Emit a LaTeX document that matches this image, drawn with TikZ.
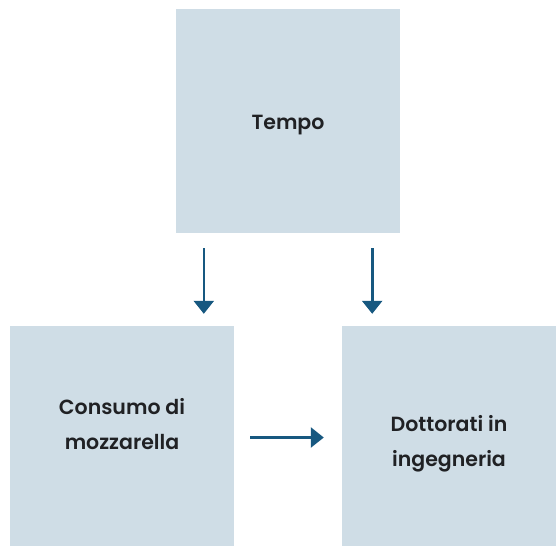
\documentclass[tikz,border=0pt]{standalone}
\usepackage{fontspec}
\setmainfont{Poppins}[BoldFont={Poppins SemiBold}]
\usepackage{xcolor}
\usetikzlibrary{arrows.meta, positioning, calc}

\definecolor{boxfill}{HTML}{CFDDE6}
\definecolor{arrowblue}{HTML}{175880}
\definecolor{textdark}{HTML}{202124}

\tikzset{
  box/.style={fill=boxfill, inner sep=0pt, minimum width=224pt, minimum height=224pt},
  lbl/.style={font=\bfseries\fontsize{20.5}{35}\selectfont, text=textdark, align=center},
  arr/.style={draw=arrowblue, line width=2.6pt, -{Triangle[width=20pt, length=13pt]}}
}

\begin{document}
\begin{tikzpicture}[x=1pt, y=-1pt]
  \useasboundingbox (0,0) rectangle (556,546);

  % Boxes
  \node[box] (tempo) at (288, 121) {};
  \node[box, minimum height=220pt] (consumo) at (122, 436) {};
  \node[box, minimum width=214pt, minimum height=220pt] (dottorati) at (449, 436) {};

  % Labels
  \node[lbl] (tempotxt) at ([yshift=-4pt]tempo.center) {Tempo};
  \node[lbl] (consumotxt) at ([yshift=12pt]consumo.center) {Consumo di\\mozzarella};
  \node[lbl] (dottoratitxt) at ([yshift=-8pt]dottorati.center) {Dottorati in\\ingegneria};

  % Arrows
  \draw[arr, shorten <=15pt, shorten >=12pt] ([xshift=28pt]tempo.south west) -- ([xshift=28pt]tempo.south west |- consumo.north);
  \draw[arr, shorten <=15pt, shorten >=12pt] ([xshift=-28pt]tempo.south east) -- ([xshift=-28pt]tempo.south east |- dottorati.north);
  \draw[arr, shorten <=16pt, shorten >=18pt] ([yshift=-1.5pt]consumo.east) -- ([yshift=-1.5pt]dottorati.west);
\end{tikzpicture}
\end{document}
